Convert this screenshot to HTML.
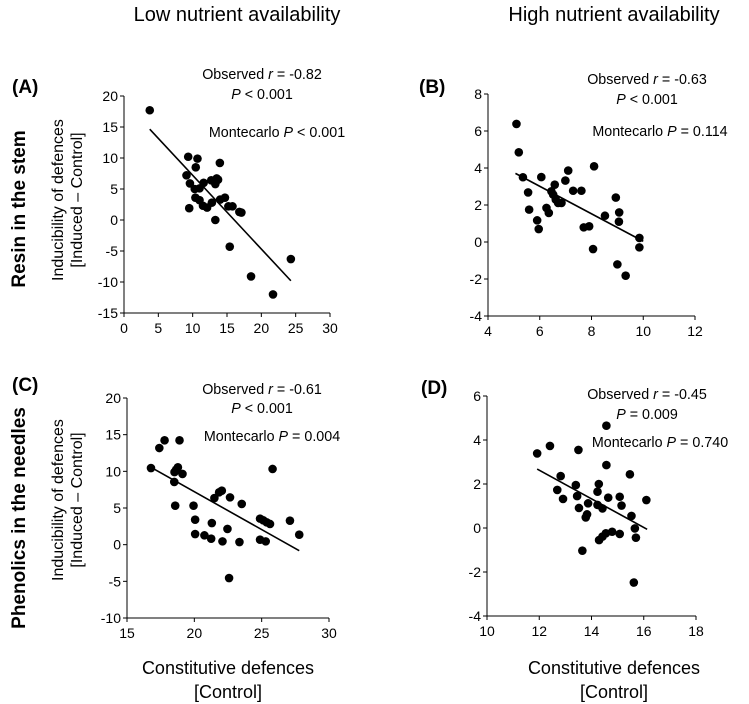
<!DOCTYPE html>
<html><head><meta charset="utf-8"><style>
body{margin:0;background:#fff;}
svg{display:block;font-family:"Liberation Sans",sans-serif;}
</style></head><body>
<svg id="chart" width="749" height="704" viewBox="0 0 749 704" xmlns="http://www.w3.org/2000/svg">
<text x="237" y="21" font-size="20" text-anchor="middle">Low nutrient availability</text>
<text x="614" y="21" font-size="20" text-anchor="middle">High nutrient availability</text>
<text x="12" y="93" font-size="19" font-weight="bold">(A)</text>
<text x="419" y="93" font-size="19" font-weight="bold">(B)</text>
<text x="12" y="391" font-size="19" font-weight="bold">(C)</text>
<text x="421" y="394" font-size="19" font-weight="bold">(D)</text>
<text transform="translate(25,209) rotate(-90)" font-size="19" font-weight="bold" text-anchor="middle">Resin in the stem</text>
<text transform="translate(25,518) rotate(-90)" font-size="19" font-weight="bold" text-anchor="middle">Phenolics in the needles</text>
<text transform="translate(63,200) rotate(-90)" font-size="16" text-anchor="middle">Inducibility of defences</text>
<text transform="translate(82,200) rotate(-90)" font-size="16" text-anchor="middle">[Induced – Control]</text>
<text transform="translate(63,500) rotate(-90)" font-size="16" text-anchor="middle">Inducibility of defences</text>
<text transform="translate(82,500) rotate(-90)" font-size="16" text-anchor="middle">[Induced – Control]</text>
<text x="228" y="674" font-size="18" text-anchor="middle">Constitutive defences</text>
<text x="228" y="698" font-size="18" text-anchor="middle">[Control]</text>
<text x="614" y="674" font-size="18" text-anchor="middle">Constitutive defences</text>
<text x="614" y="698" font-size="18" text-anchor="middle">[Control]</text>
</svg>
<script>
const aX=[3.75,9.35,10.7,10.45,13.96,9.1,9.6,10.3,11.0,11.6,12.7,13.5,13.7,13.3,10.4,11.0,11.5,12.1,12.8,14.0,14.7,9.5,15.2,15.8,16.8,17.1,13.3,15.4,18.5,21.7,24.3];
const aY=[17.7,10.2,9.9,8.5,9.2,7.2,5.9,5.0,5.1,6.0,6.4,6.7,6.5,5.8,3.6,3.2,2.3,2.0,2.8,3.3,3.6,1.9,2.2,2.2,1.3,1.2,0,-4.3,-9.1,-12.0,-6.3];
const aLine=[3.75,14.65,24.3,-9.8];
const bX=[5.10,5.19,5.35,6.06,5.55,5.59,5.90,5.96,6.26,6.35,6.45,6.52,6.58,6.62,6.71,6.84,6.99,7.10,7.29,7.61,8.10,7.70,7.91,8.06,8.52,8.94,9.07,9.06,9.0,9.32,9.85,9.85];
const bY=[6.38,4.85,3.50,3.51,2.68,1.75,1.17,0.70,1.84,1.57,2.74,2.56,3.10,2.29,2.11,2.11,3.32,3.86,2.77,2.77,4.09,0.79,0.85,-0.38,1.42,2.40,1.60,1.10,-1.21,-1.82,0.22,-0.29];
const bLine=[5.06,3.71,10.0,0.04];
const cX=[16.78,17.40,17.79,18.90,18.51,18.65,18.78,18.53,19.12,18.58,19.94,20.06,20.06,20.75,21.25,21.30,21.49,21.84,22.04,22.09,22.46,22.65,22.58,23.35,23.52,24.88,25.12,25.37,25.62,24.88,25.30,25.81,27.10,27.79];
const cY=[10.45,13.18,14.23,14.23,8.55,10.23,10.55,9.9,9.64,5.32,5.32,3.41,1.45,1.27,0.82,2.95,6.36,7.14,7.36,0.45,2.14,6.45,-4.55,0.36,5.55,3.55,3.32,3.05,2.82,0.68,0.45,10.32,3.27,1.36];
const cLine=[16.73,10.6,27.79,-0.82];
const dX=[11.92,12.41,13.50,14.57,14.57,15.47,12.82,12.69,12.91,13.40,13.45,13.52,13.87,13.83,13.78,14.28,14.23,14.23,14.42,14.64,15.08,15.15,15.53,15.66,15.70,16.10,14.29,14.42,14.55,14.79,15.08,13.65,15.62];
const dY=[3.39,3.73,3.55,4.65,2.86,2.44,2.36,1.73,1.32,1.95,1.45,0.91,1.12,0.62,0.48,2.0,1.65,1.05,0.89,1.38,1.42,1.02,0.55,-0.02,-0.44,1.27,-0.55,-0.39,-0.24,-0.17,-0.27,-1.03,-2.48];
const dLine=[11.92,2.68,16.13,-0.06];
const aXTicks=[0,5,10,15,20,25,30], aYTicks=[-15,-10,-5,0,5,10,15,20];
const bXTicks=[4,6,8,10,12], bYTicks=[-4,-2,0,2,4,6,8];
const cXTicks=[15,20,25,30], cYTicks=[-10,-5,0,5,10,15,20];
const dXTicks=[10,12,14,16,18], dYTicks=[-4,-2,0,2,4,6];
const aText=["Observed ","r"," = -0.82","P"," < 0.001","Montecarlo ","P"," < 0.001"];
const bText=["Observed ","r"," = -0.63","P"," < 0.001","Montecarlo ","P"," = 0.114"];
const cText=["Observed ","r"," = -0.61","P"," < 0.001","Montecarlo ","P"," = 0.004"];
const dText=["Observed ","r"," = -0.45","P"," = 0.009","Montecarlo ","P"," = 0.740"];

const svg=document.getElementById('chart');
const NS='http://www.w3.org/2000/svg';
function mk(tag,attrs){const e=document.createElementNS(NS,tag);for(const k in attrs)e.setAttribute(k,attrs[k]);svg.appendChild(e);return e;}
function panel(id,px,py,X,Y,line,xt,yt,txt,tp){
  const xs=v=>px[0]+(v-xt[0])/(xt[xt.length-1]-xt[0])*(px[1]-px[0]);
  const ys=v=>py[1]-(v-yt[0])/(yt[yt.length-1]-yt[0])*(py[1]-py[0]);
  let e=mk('line',{x1:px[0],x2:px[0],y1:py[0],y2:py[1],stroke:'#000','stroke-width':1});
  
  
  e=mk('line',{x1:px[0],x2:px[1],y1:py[1],y2:py[1],stroke:'#000','stroke-width':1});
  
  
  yt.forEach(v=>{
    mk('line',{x1:px[0]-4,x2:px[0],y1:ys(v),y2:ys(v),stroke:'#000'});
    const t=mk('text',{x:px[0]-6,y:ys(v)+5,'font-size':14,'text-anchor':'end'});t.textContent=v;
    
    
  });
  xt.forEach(v=>{
    mk('line',{x1:xs(v),x2:xs(v),y1:py[1],y2:py[1]+4,stroke:'#000'});
    const t=mk('text',{x:xs(v),y:py[1]+20,'font-size':14,'text-anchor':'middle'});t.textContent=v;
    
    
  });
  X.forEach((v,i)=>{
    const c=mk('circle',{cx:xs(v),cy:ys(Y[i]),r:4.3,fill:'#000'});
    
    
  });
  e=mk('line',{x1:xs(line[0]),y1:ys(line[1]),x2:xs(line[2]),y2:ys(line[3]),stroke:'#000','stroke-width':1.6});
  
  
  const rows=[[txt[0],txt[1],txt[2]],["",txt[3],txt[4]],[txt[5],txt[6],txt[7]]];
  rows.forEach((r,i)=>{
    const t=mk('text',{x:tp[i][0],y:tp[i][1],'font-size':14.3,'text-anchor':'middle'});
    
    
    const a=document.createElementNS(NS,'tspan');a.textContent=r[0];t.appendChild(a);
    const b=document.createElementNS(NS,'tspan');b.textContent=r[1];b.setAttribute('font-style','italic');t.appendChild(b);
    const c=document.createElementNS(NS,'tspan');c.textContent=r[2];t.appendChild(c);
  });
}
panel('panel-a',[124,330],[96,313],aX,aY,aLine,aXTicks,aYTicks,aText,[[262,79],[262,99],[277,137]]);
panel('panel-b',[488,695],[94,316],bX,bY,bLine,bXTicks,bYTicks,bText,[[647,84],[647,104],[660,136]]);
panel('panel-c',[127,329],[398,618],cX,cY,cLine,cXTicks,cYTicks,cText,[[262,394],[262,413],[272,441]]);
panel('panel-d',[487,696],[396,616],dX,dY,dLine,dXTicks,dYTicks,dText,[[647,399],[647,419],[660,447]]);
</script>
</body></html>
